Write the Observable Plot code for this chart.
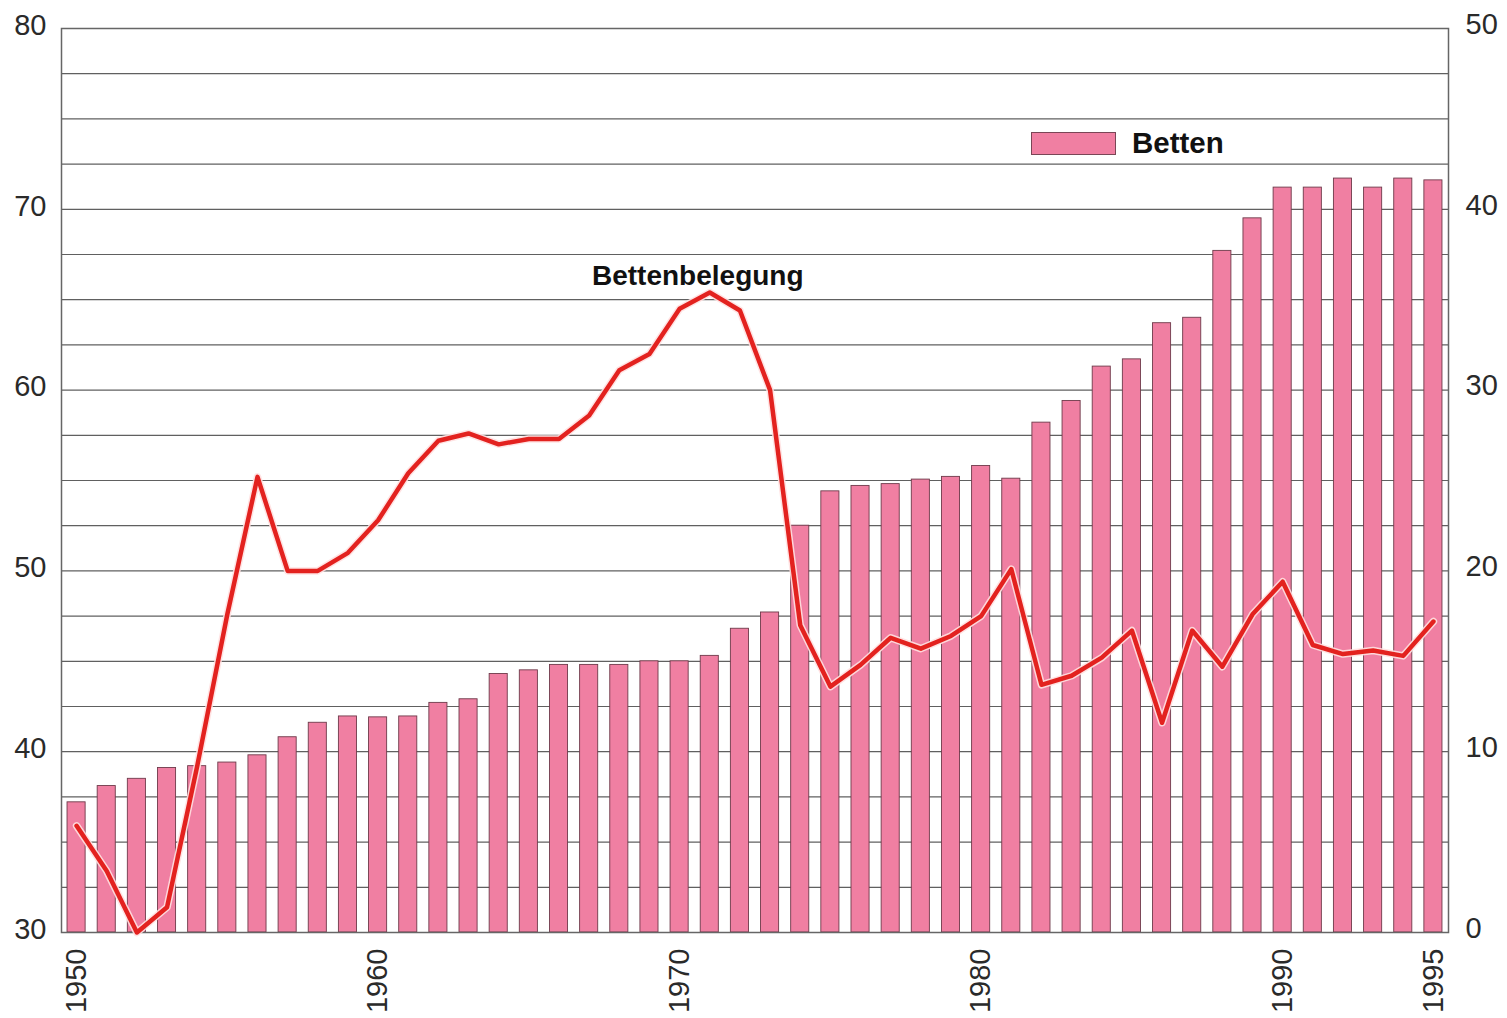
<!DOCTYPE html>
<html>
<head>
<meta charset="utf-8">
<script src="https://cdn.jsdelivr.net/npm/d3@7"></script>
<script src="https://cdn.jsdelivr.net/npm/@observablehq/plot@0.6"></script>
<style>
  html, body { margin: 0; padding: 0; background: #fff; }
  #wrap { position: relative; width: 1507px; height: 1018px; font-family: "Liberation Sans", Arial, Helvetica, sans-serif; }
  #legend { position: absolute; left: 1031px; top: 126px; display: flex; align-items: center; }
  #legend .sw { width: 85px; height: 23px; background: #f07fa2; border: 1px solid #7a4656; box-sizing: border-box; }
  #legend .lb { margin-left: 16px; font-weight: bold; font-size: 29.5px; color: #111; }
</style>
</head>
<body>
<div id="wrap"><div id="chart"></div>
  <div id="legend"><div class="sw"></div><div class="lb">Betten</div></div>
</div>
<script>
const years = d3.range(1950, 1996);
// Betten (right axis, 0–50)
const betten = [7.2, 8.1, 8.5, 9.1, 9.2, 9.4, 9.8, 10.8, 11.6, 11.95, 11.9, 11.95, 12.7, 12.9, 14.3, 14.5, 14.8, 14.8, 14.8, 15.0,
  15.0, 15.3, 16.8, 17.7, 22.5, 24.4, 24.7, 24.8, 25.05, 25.2, 25.8, 25.1, 28.2, 29.4, 31.3, 31.7, 33.7, 34.0, 37.7, 39.5,
  41.2, 41.2, 41.7, 41.2, 41.7, 41.6];
// Bettenbelegung (left axis, 30–80)
const belegung = [35.9, 33.4, 30.0, 31.4, 39.2, 47.6, 55.2, 50.0, 50.0, 51.0, 52.8, 55.4, 57.2, 57.6, 57.0, 57.3, 57.3, 58.6, 61.1, 62.0,
  64.5, 65.4, 64.4, 60.0, 47.0, 43.6, 44.8, 46.3, 45.7, 46.4, 47.5, 50.1, 43.7, 44.2, 45.2, 46.7, 41.6, 46.7, 44.7, 47.6,
  49.4, 45.9, 45.4, 45.6, 45.3, 47.2];
const yearTicks = [1950, 1960, 1970, 1980, 1990, 1995];
const leftTicks = [30, 40, 50, 60, 70, 80];
const rightOffset = 30;
const gridValues = d3.range(30, 80.01, 2.5);
const lineLabel = "Bettenbelegung";

const data = years.map((y, i) => ({year: y, betten: betten[i], belegung: belegung[i]}));

const chart = Plot.plot({
  width: 1507,
  height: 1018,
  marginLeft: 61,
  marginRight: 59,
  marginTop: 28,
  marginBottom: 86,
  style: {fontFamily: "'Liberation Sans', Arial, Helvetica, sans-serif", fontSize: "29px", color: "#2a2a2a", background: "#fff"},
  x: {type: "band", domain: years, paddingInner: 0.4, paddingOuter: 0.2, round: false},
  y: {domain: [30, 80]},
  marks: [
    Plot.ruleY(gridValues, {stroke: "#444", strokeWidth: 1.2, strokeOpacity: 0.85}),
    Plot.barY(data, {x: "year", y1: 30, y2: d => d.betten + rightOffset, fill: "#f07fa2", stroke: "#6e3a4a", strokeWidth: 0.9}),
    Plot.frame({stroke: "#666", strokeWidth: 1.5}),
    Plot.line(data, {x: "year", y: "belegung", stroke: "#ffe0e0", strokeWidth: 7.5, strokeOpacity: 0.9}),
    Plot.line(data, {x: "year", y: "belegung", stroke: "#e3221f", strokeWidth: 4.5}),
    Plot.text([lineLabel], {x: 1971, y: 66.3, text: d => d, fontWeight: "bold", fontSize: 28, fill: "#111", dx: -12}),
    Plot.axisY(leftTicks, {anchor: "left", tickSize: 0, tickPadding: 15, fontSize: 29, label: null, dy: -3}),
    Plot.axisY(leftTicks, {anchor: "right", tickSize: 0, tickPadding: 17, fontSize: 29, label: null, dy: -4, tickFormat: d => String(d - rightOffset)}),
    Plot.axisX(yearTicks, {anchor: "bottom", tickSize: 0, tickPadding: 16, tickRotate: -90, fontSize: 29, label: null, tickFormat: d => String(d)})
  ]
});
document.getElementById("chart").appendChild(chart);
</script>
</body>
</html>
